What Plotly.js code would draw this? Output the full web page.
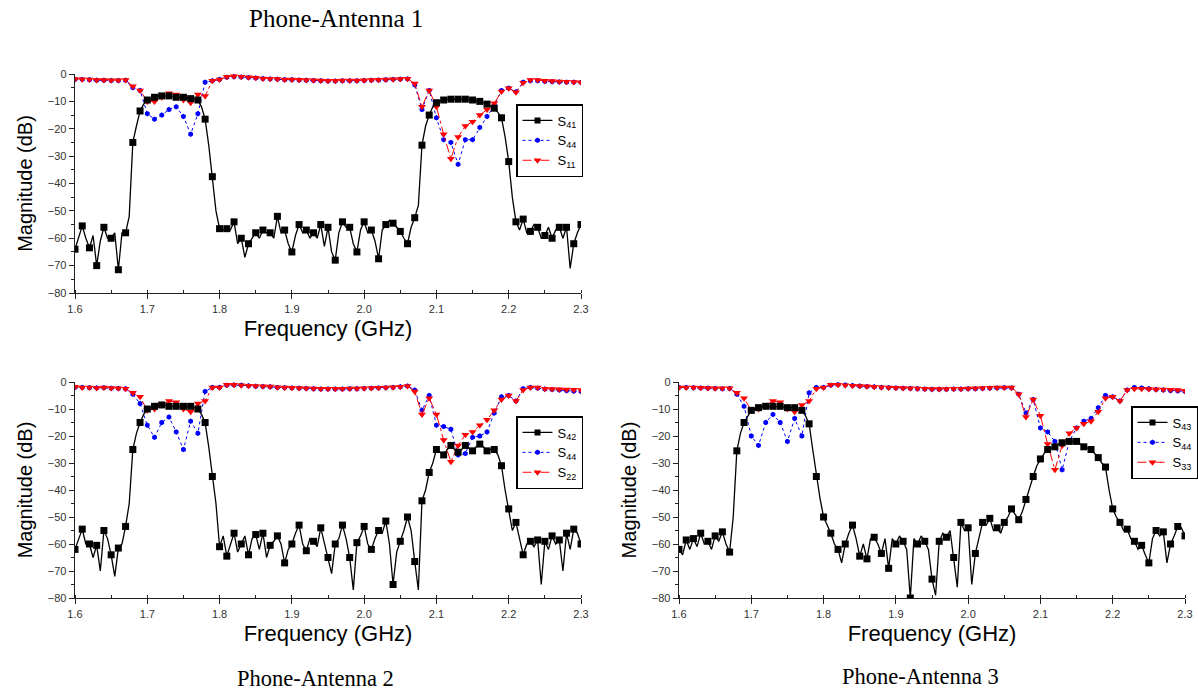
<!DOCTYPE html>
<html>
<head>
<meta charset="utf-8">
<script src="https://cdn.plot.ly/plotly-3.0.1.min.js"></script>
<style>html,body{margin:0;padding:0;background:#fff;}#chart{width:1198px;height:692px;}</style>
</head>
<body>
<div id="chart"></div>
<script>
// Frequency grids (GHz)
const freqStart = 1.6, fineStep = 0.005, coarseStep = 0.01;
const nFine = 141, nCoarse = 71;

// Panel titles & legend labels
const panelTitles = ["Phone-Antenna 1", "Phone-Antenna 2", "Phone-Antenna 3"];
const transLabels = ["S<sub>41</sub>", "S<sub>42</sub>", "S<sub>43</sub>"];
const antLabels = ["S<sub>44</sub>", "S<sub>44</sub>", "S<sub>44</sub>"];
const phoneLabels = ["S<sub>11</sub>", "S<sub>22</sub>", "S<sub>33</sub>"];
const xTickVals = [1.6, 1.7, 1.8, 1.9, 2.0, 2.1, 2.2, 2.3];
const xTickText = ["1.6", "1.7", "1.8", "1.9", "2.0", "2.1", "2.2", "2.3"];

// Panel 1 : S41 (0.005 GHz step)
const s41 = [-64,-60,-55.5,-60,-63.5,-59,-70,-61,-56,-60,-60,-58,-71.5,-58,-58,-52,-25,-19,-13.5,-11,
-9.5,-9,-8.5,-8.2,-8,-8,-8,-8.2,-8.5,-8.5,-8.5,-8.7,-9,-9.2,-9.5,-12,-16.5,-26,-37.5,-50,
-56.5,-57,-56.5,-57,-54,-62,-60,-67,-62,-60,-58,-60,-57,-58,-58,-60,-52,-58,-57,-62,
-65,-59,-55,-58,-57,-60,-58,-60,-55,-63,-56,-65,-68,-58,-54,-56,-56,-62,-65,-57,
-54,-58,-57,-61,-67.5,-57,-55,-53.5,-54.5,-56,-57.5,-60,-62,-56,-52.5,-48,-26,-19,-15,-12,
-10.5,-9.8,-9.5,-9.3,-9.2,-9.2,-9.2,-9.2,-9.2,-9.3,-9.5,-9.7,-10,-10.5,-11,-11.7,-12.5,-14,-16,-23,
-32,-45,-54,-57,-53,-58,-57.5,-55,-56,-60,-59,-56,-60,-57,-56,-60,-56,-71,-62,-58,-55];
// Panel 1 : S44 and S11 (0.01 GHz step)
const s44a = [-2,-2,-2.1,-2.3,-2.3,-2.4,-2.4,-2.3,-5,-6,
-14.5,-16.5,-15,-13,-12,-15.5,-22,-14.5,-3,-2.5,
-2,-1.2,-1,-1.1,-1.3,-1.5,-1.7,-1.8,-1.9,-2.1,
-2.1,-2.2,-2.3,-2.4,-2.5,-2.6,-2.6,-2.5,-2.5,-2.5,
-2.4,-2.3,-2.2,-2.1,-2,-1.9,-1.8,-4,-13,-6,
-16,-24,-25,-33,-24,-24,-19.5,-15.5,-11.5,-6,
-5.2,-6.5,-3,-2.5,-2.5,-2.7,-2.8,-2.9,-3,-3,-3.1];
const s11 = [-1.8,-1.9,-2,-2.2,-2.2,-2.3,-2.3,-2.2,-4.5,-6,
-10,-10,-8.5,-7,-7.5,-9.5,-10.5,-7.5,-8,-2.5,
-2,-1,-0.8,-1,-1.2,-1.4,-1.6,-1.7,-1.8,-2,
-2,-2.1,-2.2,-2.3,-2.4,-2.5,-2.5,-2.4,-2.4,-2.4,
-2.3,-2.2,-2.1,-2,-1.9,-1.8,-1.7,-3.5,-12,-6,
-12,-22,-31,-23,-19,-17.4,-15,-13,-10.7,-6.4,
-5.2,-6.7,-3.2,-2.2,-2.2,-2.5,-2.6,-2.7,-2.8,-2.9,-3];

// Panel 2 : S42 (0.005 GHz step)
const s42 = [-62,-58,-54.5,-60,-60,-65,-60.5,-70,-55,-58,-64,-72,-61.5,-60,-53.5,-45,-25,-19,-15,-12,
-10,-9.5,-9,-8.7,-8.5,-8.7,-9,-9,-9,-9,-9,-9,-9,-9.5,-10,-12,-15,-24,-35,-45,
-61,-57,-64.5,-60,-56,-63,-60,-57,-64,-58,-56.5,-62,-56,-65,-60.5,-59,-57,-60,-67,-62,
-60,-56,-53,-60,-62.5,-58,-59,-61,-54,-60,-65,-71,-60,-58,-53,-58,-65,-77,-59.5,-57,
-53.5,-60,-62,-58,-55,-56,-51.5,-60,-75,-63,-59,-55,-50,-55,-66.5,-77,-44,-40,-33.5,-30,
-25,-26,-27,-25,-23.5,-25,-26,-25,-23.5,-24.5,-25.5,-24,-23,-24,-25.5,-25,-25,-27,-31,-40,
-47,-55,-52,-58,-64,-60,-59,-61,-58.5,-75,-59,-62,-57,-60,-58.5,-70,-56,-62,-54.5,-56,-60];
// Panel 2 : S44 and S22
const s44b = [-2,-2,-2.1,-2.2,-2.1,-2.3,-2.4,-2.5,-4.5,-8,
-16,-20.5,-15,-13,-18.5,-25,-14.5,-19,-3.5,-2,
-2,-1.2,-1.1,-1.2,-1.4,-1.6,-1.7,-1.8,-2,-2.1,
-2.2,-2.3,-2.4,-2.5,-2.6,-2.6,-2.6,-2.6,-2.5,-2.5,
-2.4,-2.3,-2.2,-2.1,-2,-1.8,-1.5,-3,-10.5,-5,
-16,-16.5,-17.5,-27,-26.5,-20.5,-20,-18.5,-11.5,-5.5,
-5,-7,-2.5,-2,-2.3,-2.6,-2.8,-3,-3.2,-3.4,-3.5];
const s22 = [-1.8,-2,-2,-2.2,-2,-2.2,-2.3,-2.5,-4,-5.5,
-10.5,-10,-8.5,-7,-7.5,-10,-11,-8,-7,-2,
-2,-1,-1,-1.2,-1.4,-1.5,-1.6,-1.7,-1.9,-2,
-2.1,-2.2,-2.3,-2.4,-2.5,-2.5,-2.5,-2.5,-2.4,-2.4,
-2.3,-2.2,-2.1,-2,-1.9,-1.8,-1.5,-3.5,-12,-6,
-12,-21.5,-29.5,-23.5,-19.5,-18.5,-16,-14,-10.5,-6.5,
-5,-7,-3,-2,-2,-2.5,-2.6,-2.7,-2.8,-2.9,-3];

// Panel 3 : S43 (0.005 GHz step)
const s43 = [-62,-64,-58.5,-62,-58,-61,-56,-60,-59,-62,-57,-59,-55.5,-60,-63,-50,-25.5,-19,-15,-12.5,
-10.5,-10,-9.5,-9.2,-9,-9,-9,-9,-9,-9.2,-9.5,-9.5,-9.5,-10,-10.5,-12.5,-15.5,-25,-35,-43,
-50,-53,-56,-60,-62,-67,-60,-56,-53,-58,-64.5,-60,-65.5,-58,-57.5,-60,-63.5,-58,-69,-58,
-60,-57,-59,-62,-80,-58,-60,-57,-59,-62,-73,-79,-59,-56,-57.5,-55,-65,-76,-52,-55,
-54,-75,-63.5,-58,-52,-53,-50.5,-55,-54,-56,-52,-50,-47,-49,-51,-48,-43.5,-39,-35,-31,
-28.5,-26.5,-25,-24.5,-24,-23,-22.5,-22.2,-22,-22,-22,-23,-24,-24.5,-25,-26.5,-28,-30,-31.5,-40,
-47,-50,-52,-55,-54.5,-58,-59,-62,-60.5,-64,-67,-58,-55,-57,-55.5,-67,-60,-57,-53.5,-54,-57];
// Panel 3 : S44 and S33
const s44c = [-2,-2,-2.1,-2.2,-2.3,-2.4,-2.5,-2.4,-4.5,-9,
-20,-23.5,-15,-12,-15,-22,-13.5,-20,-4,-2,
-2,-1.2,-1,-1.1,-1.3,-1.5,-1.7,-1.8,-2,-2.1,
-2.2,-2.3,-2.4,-2.5,-2.6,-2.7,-2.7,-2.7,-2.6,-2.6,
-2.5,-2.5,-2.4,-2.3,-2.2,-2.1,-2.2,-4.5,-11.5,-6.5,
-17,-18.5,-22,-32.5,-22,-17,-14.5,-13.5,-9.5,-5,
-5.5,-7,-3,-2,-2.2,-2.5,-2.8,-3,-3.2,-3.3,-3.5];
const s33 = [-2,-2,-2,-2.1,-2.2,-2.3,-2.3,-2.3,-4,-6,
-10.5,-10,-8.5,-7,-7.5,-10,-11,-8.5,-7,-2.5,
-2,-1,-1,-1.2,-1.4,-1.5,-1.6,-1.8,-1.9,-2,
-2.1,-2.2,-2.3,-2.4,-2.5,-2.6,-2.6,-2.6,-2.5,-2.5,
-2.4,-2.3,-2.2,-2.1,-2,-2,-2,-4.5,-13,-6.5,
-12.5,-23,-32.5,-23.5,-19,-17,-15.5,-14.5,-11,-6,
-5.5,-7,-3,-2.5,-2.5,-2.6,-2.7,-2.8,-2.9,-3,-3.2];

const fineF = Array.from({length: nFine}, (_, i) => +(freqStart + i * fineStep).toFixed(3));
const coarseF = Array.from({length: nCoarse}, (_, i) => +(freqStart + i * coarseStep).toFixed(3));

const panels = [
  {trans: s41, ant: s44a, phone: s11, xa: 'x', ya: 'y', leg: 'legend'},
  {trans: s42, ant: s44b, phone: s22, xa: 'x2', ya: 'y2', leg: 'legend2'},
  {trans: s43, ant: s44c, phone: s33, xa: 'x3', ya: 'y3', leg: 'legend3'}
];

const BLACK = '#000000', BLUE = '#0000ff', RED = '#ff0000';
const traces = [];
panels.forEach((p, k) => {
  traces.push({x: coarseF, y: p.ant, xaxis: p.xa, yaxis: p.ya, mode: 'lines+markers',
    line: {color: BLUE, width: 1, dash: 'dot'}, marker: {symbol: 'hexagon', size: 5.5, color: BLUE},
    name: antLabels[k], legend: p.leg, legendrank: 2, hoverinfo: 'skip'});
  traces.push({x: coarseF, y: p.phone, xaxis: p.xa, yaxis: p.ya, mode: 'lines+markers',
    line: {color: RED, width: 1, dash: 'dashdot'}, marker: {symbol: 'triangle-down', size: 7, color: RED},
    name: phoneLabels[k], legend: p.leg, legendrank: 3, hoverinfo: 'skip'});
  traces.push({x: fineF, y: p.trans, xaxis: p.xa, yaxis: p.ya, mode: 'lines',
    line: {color: BLACK, width: 1.3}, showlegend: false, hoverinfo: 'skip'});
  traces.push({x: fineF.filter((_, i) => i % 2 === 0), y: p.trans.filter((_, i) => i % 2 === 0),
    xaxis: p.xa, yaxis: p.ya, mode: 'markers', marker: {symbol: 'square', size: 7, color: BLACK},
    showlegend: false, hoverinfo: 'skip'});
  traces.push({x: [null], y: [null], xaxis: p.xa, yaxis: p.ya, mode: 'lines+markers',
    line: {color: BLACK, width: 1.3}, marker: {symbol: 'square', size: 6, color: BLACK},
    name: transLabels[k], legend: p.leg, legendrank: 1, hoverinfo: 'skip'});
});

const tickFont = {family: 'Liberation Sans, Arial, sans-serif', size: 11, color: '#333'};
const xTitleFont = {family: 'Liberation Sans, Arial, sans-serif', size: 22, color: '#000'};
const yTitleFont = {family: 'Liberation Sans, Arial, sans-serif', size: 20, color: '#000'};
function xAxis(dom, anchor) {
  return {domain: dom, anchor: anchor, range: [1.6, 2.3], tickvals: xTickVals, ticktext: xTickText,
    showline: true, linecolor: '#222', linewidth: 1.3, ticks: 'outside', ticklen: 5, tickcolor: '#222',
    showgrid: false, zeroline: false, tickfont: tickFont,
    minor: {dtick: 0.05, tick0: 1.6, ticks: 'inside', ticklen: 3, tickcolor: '#222', showgrid: false},
    title: {text: 'Frequency (GHz)', font: xTitleFont, standoff: 7}};
}
function yAxis(dom, anchor) {
  return {domain: dom, anchor: anchor, range: [-80, 0], dtick: 10, tick0: 0,
    showline: true, linecolor: '#222', linewidth: 1.3, ticks: 'outside', ticklen: 5, tickcolor: '#222',
    showgrid: false, zeroline: false, tickfont: tickFont,
    minor: {dtick: 5, ticks: 'outside', ticklen: 3, tickcolor: '#222', showgrid: false},
    title: {text: 'Magnitude (dB)', font: yTitleFont, standoff: 9}};
}
const W = 1198, H = 692;
const legendBase = {bgcolor: '#fff', bordercolor: '#000', borderwidth: 1.5, xanchor: 'left', yanchor: 'top',
  font: {family: 'Liberation Sans, Arial, sans-serif', size: 13, color: '#000'}, itemwidth: 30, tracegroupgap: 0,
  traceorder: 'normal'};
const layout = {
  width: W, height: H, margin: {l: 0, r: 0, t: 0, b: 0}, paper_bgcolor: '#fff', plot_bgcolor: 'rgba(0,0,0,0)',
  showlegend: true,
  xaxis: xAxis([75 / W, 581 / W], 'y'), yaxis: yAxis([1 - 293 / H, 1 - 74 / H], 'x'),
  xaxis2: xAxis([75 / W, 581 / W], 'y2'), yaxis2: yAxis([1 - 598 / H, 1 - 382 / H], 'x2'),
  xaxis3: xAxis([679 / W, 1185 / W], 'y3'), yaxis3: yAxis([1 - 598 / H, 1 - 382 / H], 'x3'),
  legend: Object.assign({x: 516 / W, y: 1 - 104 / H}, legendBase),
  legend2: Object.assign({x: 516 / W, y: 1 - 416 / H}, legendBase),
  legend3: Object.assign({x: 1131 / W, y: 1 - 406 / H}, legendBase),
  annotations: [
    {text: panelTitles[0], x: 336 / W, y: 1 - 18 / H, size: 25},
    {text: panelTitles[1], x: 315 / W, y: 1 - 678 / H, size: 22.5},
    {text: panelTitles[2], x: 920 / W, y: 1 - 676 / H, size: 22.5}
  ].map(a => ({text: a.text, x: a.x, y: a.y, xref: 'paper', yref: 'paper', showarrow: false,
    xanchor: 'center', yanchor: 'middle',
    font: {family: 'Liberation Serif, Times New Roman, serif', size: a.size, color: '#000'}}))
};
Plotly.newPlot('chart', traces, layout, {staticPlot: true, displayModeBar: false});
</script>
</body>
</html>
